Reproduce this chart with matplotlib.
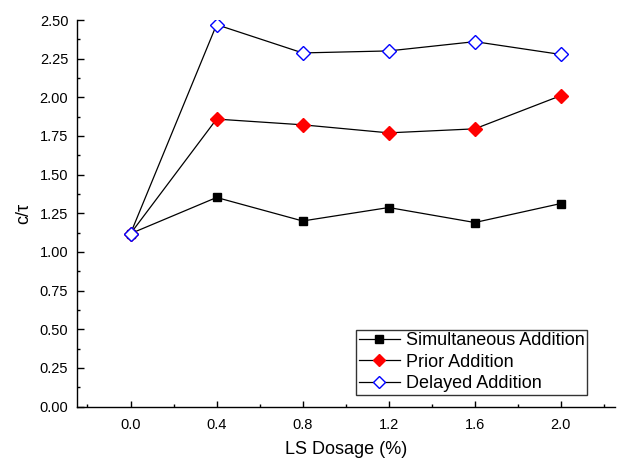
import matplotlib
matplotlib.use("Agg")
import matplotlib.pyplot as plt
from matplotlib.ticker import MultipleLocator, FormatStrFormatter

plt.rcParams['font.family'] = ['Liberation Sans', 'DejaVu Sans']

dosage = [0.0, 0.4, 0.8, 1.2, 1.6, 2.0]
simultaneous = [1.118, 1.352, 1.200, 1.287, 1.190, 1.313]
prior = [1.118, 1.859, 1.822, 1.770, 1.796, 2.011]
delayed = [1.118, 2.470, 2.287, 2.300, 2.360, 2.277]
labels = ["Simultaneous Addition", "Prior Addition", "Delayed Addition"]

fig = plt.figure(figsize=(6.23, 4.61), dpi=100)
ax = fig.add_axes([76.7 / 623, 1 - 406.5 / 461, (614.7 - 76.7) / 623, (406.5 - 20) / 461])

ax.plot(dosage, simultaneous, color='black', lw=0.9, marker='s', ms=6.3,
        mfc='black', mec='black', label=labels[0])
ax.plot(dosage, prior, color='black', lw=0.9, marker='D', ms=7,
        mfc='red', mec='red', label=labels[1])
ax.plot(dosage, delayed, color='black', lw=0.9, marker='D', ms=7,
        mfc='white', mec='#0000ff', mew=1.0, label=labels[2])

ax.set_xlim(-0.25, 2.25)
ax.set_ylim(0, 2.5)
ax.xaxis.set_major_locator(MultipleLocator(0.4))
ax.xaxis.set_minor_locator(MultipleLocator(0.2))
ax.yaxis.set_major_locator(MultipleLocator(0.25))
ax.yaxis.set_minor_locator(MultipleLocator(0.125))
ax.xaxis.set_major_formatter(FormatStrFormatter('%.1f'))
ax.yaxis.set_major_formatter(FormatStrFormatter('%.2f'))

for s in ['top', 'right']:
    ax.spines[s].set_visible(False)
for s in ['left', 'bottom']:
    ax.spines[s].set_linewidth(1.0)

ax.tick_params(axis='both', which='both', direction='in', labelsize=10.5, width=1.0)
ax.tick_params(axis='x', which='major', length=4.5, pad=8)
ax.tick_params(axis='y', which='major', length=5, pad=6)
ax.tick_params(axis='both', which='minor', length=2.5)

ax.set_xlabel("LS Dosage (%)", fontsize=13, labelpad=7)
ax.set_ylabel("c/\u03c4", fontsize=13, labelpad=5)

leg = ax.legend(loc='lower right', bbox_to_anchor=(587 / 623, 1 - 395 / 461),
                bbox_transform=fig.transFigure, borderaxespad=0,
                fontsize=13, frameon=True, fancybox=False, shadow=False,
                handlelength=2.3, handletextpad=0.3, labelspacing=0.25,
                borderpad=0.15, markerscale=0.85)
leg.get_frame().set_edgecolor('black')
leg.get_frame().set_linewidth(1.0)

fig.savefig("out.png", dpi=100)
